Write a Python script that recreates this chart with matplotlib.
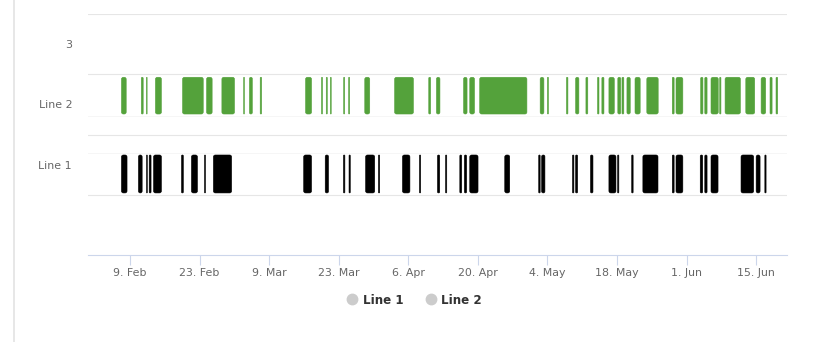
import pandas as pd
import matplotlib
matplotlib.use('Agg')
from matplotlib import pyplot as plt
from matplotlib import dates as mdates
from matplotlib.lines import Line2D
from matplotlib.patches import FancyBboxPatch

categories = ['', 'Line 1', 'Line 2', '3']

line1_start = ['2015-02-07 07:00', '2015-02-10 17:00', '2015-02-12 08:00', '2015-02-12 21:00',
               '2015-02-13 18:00', '2015-02-19 09:00', '2015-02-21 09:00', '2015-02-24 00:00',
               '2015-02-25 19:00', '2015-03-15 23:00', '2015-03-20 07:00', '2015-03-23 23:00',
               '2015-03-25 02:00', '2015-03-28 10:00', '2015-03-31 00:00', '2015-04-04 20:00',
               '2015-04-08 06:00', '2015-04-11 21:00', '2015-04-13 12:00', '2015-04-16 09:00',
               '2015-04-17 07:00', '2015-04-18 09:00', '2015-04-25 10:00', '2015-05-02 06:00',
               '2015-05-02 20:00', '2015-05-09 01:00', '2015-05-09 16:00', '2015-05-12 16:00',
               '2015-05-16 09:00', '2015-05-18 03:00', '2015-05-20 23:00', '2015-05-23 05:00',
               '2015-05-29 03:00', '2015-05-29 21:00', '2015-06-03 18:00', '2015-06-04 16:00',
               '2015-06-05 22:00', '2015-06-11 23:00', '2015-06-15 00:00', '2015-06-16 18:00']
line1_end = ['2015-02-08 10:00', '2015-02-11 11:00', '2015-02-12 12:00', '2015-02-13 06:00',
             '2015-02-15 08:00', '2015-02-19 18:00', '2015-02-22 14:00', '2015-02-24 05:00',
             '2015-03-01 11:00', '2015-03-17 13:00', '2015-03-20 23:00', '2015-03-24 06:00',
             '2015-03-25 08:00', '2015-03-30 06:00', '2015-03-31 06:00', '2015-04-06 08:00',
             '2015-04-08 12:00', '2015-04-12 08:00', '2015-04-13 18:00', '2015-04-16 18:00',
             '2015-04-17 18:00', '2015-04-20 01:00', '2015-04-26 10:00', '2015-05-02 13:00',
             '2015-05-03 12:00', '2015-05-09 08:00', '2015-05-10 02:00', '2015-05-13 04:00',
             '2015-05-17 19:00', '2015-05-18 09:00', '2015-05-21 06:00', '2015-05-26 06:00',
             '2015-05-29 12:00', '2015-05-31 06:00', '2015-06-04 06:00', '2015-06-05 03:00',
             '2015-06-07 08:00', '2015-06-14 12:00', '2015-06-15 19:00', '2015-06-17 00:00']

line2_start = ['2015-02-07 07:00', '2015-02-11 07:00', '2015-02-12 08:00', '2015-02-14 03:00',
               '2015-02-19 14:00', '2015-02-24 10:00', '2015-02-27 12:00', '2015-03-03 21:00',
               '2015-03-05 01:00', '2015-03-07 05:00', '2015-03-16 08:00', '2015-03-19 13:00',
               '2015-03-20 12:00', '2015-03-21 08:00', '2015-03-24 00:00', '2015-03-25 00:00',
               '2015-03-28 06:00', '2015-04-03 06:00', '2015-04-10 03:00', '2015-04-11 16:00',
               '2015-04-17 03:00', '2015-04-18 09:00', '2015-04-20 09:00', '2015-05-02 13:00',
               '2015-05-04 00:00', '2015-05-07 20:00', '2015-05-09 16:00', '2015-05-11 18:00',
               '2015-05-14 02:00', '2015-05-14 23:00', '2015-05-16 09:00', '2015-05-18 04:00',
               '2015-05-19 00:00', '2015-05-20 00:00', '2015-05-21 15:00', '2015-05-24 00:00',
               '2015-05-29 03:00', '2015-05-29 21:00', '2015-06-03 20:00', '2015-06-04 16:00',
               '2015-06-05 22:00', '2015-06-07 16:00', '2015-06-08 18:00', '2015-06-12 22:00',
               '2015-06-16 00:00', '2015-06-17 19:00', '2015-06-19 00:00']
line2_end = ['2015-02-08 06:00', '2015-02-11 16:00', '2015-02-12 11:00', '2015-02-15 08:00',
             '2015-02-23 18:00', '2015-02-25 13:00', '2015-03-02 01:00', '2015-03-04 01:00',
             '2015-03-05 15:00', '2015-03-07 12:00', '2015-03-17 13:00', '2015-03-19 18:00',
             '2015-03-20 17:00', '2015-03-21 12:00', '2015-03-24 05:00', '2015-03-25 05:00',
             '2015-03-29 06:00', '2015-04-07 01:00', '2015-04-10 12:00', '2015-04-12 09:00',
             '2015-04-17 20:00', '2015-04-19 08:00', '2015-04-29 21:00', '2015-05-03 07:00',
             '2015-05-04 05:00', '2015-05-08 03:00', '2015-05-10 08:00', '2015-05-12 03:00',
             '2015-05-14 09:00', '2015-05-15 09:00', '2015-05-17 11:00', '2015-05-18 18:00',
             '2015-05-19 09:00', '2015-05-20 16:00', '2015-05-22 16:00', '2015-05-26 07:00',
             '2015-05-29 12:00', '2015-05-31 06:00', '2015-06-04 07:00', '2015-06-05 03:00',
             '2015-06-07 09:00', '2015-06-07 22:00', '2015-06-11 20:00', '2015-06-14 17:00',
             '2015-06-16 22:00', '2015-06-18 05:00', '2015-06-19 08:00']

tick_dates = ['2015-02-09', '2015-02-23', '2015-03-09', '2015-03-23', '2015-04-06',
              '2015-04-20', '2015-05-04', '2015-05-18', '2015-06-01', '2015-06-15']
tick_labels = ['9. Feb', '23. Feb', '9. Mar', '23. Mar', '6. Apr',
               '20. Apr', '4. May', '18. May', '1. Jun', '15. Jun']


def draw_bars(ax, starts, ends, y0, h, color):
    s = mdates.date2num(pd.to_datetime(starts))
    e = mdates.date2num(pd.to_datetime(ends))
    aspect = 0.08  # y units per x unit for the round corners
    for a, b in zip(s, e):
        w = b - a
        r = min(0.4, w / 2)
        ax.add_patch(FancyBboxPatch((a, y0), w, h,
                                    boxstyle='round,pad=0,rounding_size=%f' % r,
                                    mutation_aspect=aspect,
                                    fc=color, ec=color, lw=0.4))


fig = plt.figure(figsize=(8.14, 3.42), dpi=100)
ax = fig.add_axes([88/814, 87/342, (787-88)/814, (255-14)/342])

draw_bars(ax, line1_start, line1_end, 0.53, 0.63, '#000000')
draw_bars(ax, line2_start, line2_end, 1.84, 0.61, '#54a23b')

for y in [0.5, 1.5, 2.5, 3.5]:
    ax.axhline(y, color='#e6e6e6', lw=0.8, zorder=0)
for y in [1.19, 1.81]:
    ax.axhline(y, color='#f6f6f6', lw=0.7, zorder=0)

ax.set_ylim(-0.5, 3.5)
ax.set_yticks(range(len(categories)))
ax.set_yticklabels(categories)
ax.tick_params(axis='y', length=0, pad=11.5, labelsize=7.9, labelcolor='#666666')

ax.set_xlim(mdates.date2num(pd.Timestamp('2015-01-31 13:30')),
            mdates.date2num(pd.Timestamp('2015-06-21 05:00')))
ax.set_xticks(mdates.date2num(pd.to_datetime(tick_dates)))
ax.set_xticklabels(tick_labels)
ax.tick_params(axis='x', length=7, width=0.8, color='#ccd6eb', pad=2,
               labelsize=7.9, labelcolor='#666666')

for side in ['top', 'right', 'left']:
    ax.spines[side].set_visible(False)
ax.spines['bottom'].set_color('#ccd6eb')
ax.spines['bottom'].set_linewidth(0.8)

# container border on the left
fig.add_artist(Line2D([14/814, 14/814], [0, 1], color='#e3e3e3', lw=1.2))

handles = [Line2D([], [], marker='o', ls='', color='#cccccc', markersize=7.5),
           Line2D([], [], marker='o', ls='', color='#cccccc', markersize=7.5)]
fig.legend(handles, ['Line 1', 'Line 2'], loc='center', bbox_to_anchor=(414/814, 1-300/342),
           ncol=2, frameon=False, prop={'weight': 'bold', 'size': 8.6},
           labelcolor='#333333', handletextpad=0.35, columnspacing=1.8, handlelength=1.0)

plt.savefig('out.png', dpi=100)
